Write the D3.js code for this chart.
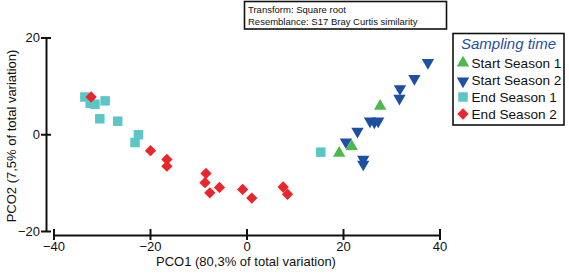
<!DOCTYPE html>
<html>
<head>
<meta charset="utf-8">
<script src="https://cdn.jsdelivr.net/npm/d3@7"></script>
<style>
  body { margin: 0; background: #fff; }
  svg { display: block; font-family: "Liberation Sans", Arial, sans-serif; }
</style>
</head>
<body>
<div id="chart"></div>
<script>
// groups in legend order
var groups = ["Start Season 1", "Start Season 2", "End Season 1", "End Season 2"];
var groupColors = ["#4cb84f", "#1f4fa3", "#5cc6c6", "#e8262c"];

// PCO1 / PCO2 scores
var startSeason1 = [[27.7, 6.0], [21.8, -2.3], [19.2, -3.7]];
var startSeason2 = [[37.6, 14.6], [34.8, 11.3], [31.8, 9.2], [31.7, 7.2], [25.6, 2.5], [26.5, 2.3],
                    [27.3, 2.5], [23.0, 0.4], [20.6, -1.8], [24.2, -5.4], [24.2, -6.4]];
var endSeason1 = [[-33.5, 7.7], [-32.4, 6.4], [-31.4, 6.2], [-29.3, 6.9], [-30.4, 3.2], [-26.7, 2.7],
                  [-22.4, -0.1], [-23.1, -1.7], [15.4, -3.7]];
var endSeason2 = [[-32.2, 7.7], [-19.9, -3.4], [-16.5, -5.2], [-16.5, -6.6], [-8.4, -8.1], [-8.6, -10.0],
                  [-7.6, -12.1], [-5.6, -11.0], [-0.8, -11.4], [1.1, -13.2], [7.6, -10.9], [8.5, -12.4]];

var xTicks = [-40, -20, 0, 20, 40];
var yTicks = [-20, 0, 20];

var width = 569, height = 275;
var svg = d3.select("#chart").append("svg").attr("width", width).attr("height", height);

var x = d3.scaleLinear().domain([-40, 40]).range([53.5, 439.5]);
var y = d3.scaleLinear().domain([-20, 20]).range([231, 37.5]);

// separate Prism-like axes
var yAxis = svg.append("g").attr("transform", "translate(46,0)")
    .call(d3.axisLeft(y).tickValues(yTicks).tickSize(5).tickSizeOuter(0).tickFormat(d3.format("d")));
var xAxis = svg.append("g").attr("transform", "translate(0,235)")
    .call(d3.axisBottom(x).tickValues(xTicks).tickSize(5).tickSizeOuter(0).tickFormat(d3.format("d")));

[yAxis, xAxis].forEach(function (ax) {
    ax.select(".domain").attr("stroke", "#111").attr("stroke-width", 2);
    ax.selectAll(".tick line").attr("stroke", "#111").attr("stroke-width", 2);
    ax.selectAll(".tick text").attr("fill", "#111").style("font-size", "13px").style("font-family", "Liberation Sans, Arial, sans-serif");
});
// ticks cross the axis line
yAxis.selectAll(".tick line").attr("x1", 5).attr("x2", -5);
yAxis.selectAll(".tick text").attr("x", -6);
xAxis.selectAll(".tick line").attr("y1", -6).attr("y2", 5);
xAxis.selectAll(".tick text").attr("y", 7);

svg.append("text").attr("x", 246).attr("y", 266).attr("text-anchor", "middle")
    .style("font-size", "13px").attr("fill", "#111")
    .text("PCO1 (80,3% of total variation)");
svg.append("text").attr("transform", "translate(16,136) rotate(-90)").attr("text-anchor", "middle")
    .style("font-size", "13px").attr("fill", "#111")
    .text("PCO2 (7,5% of total variation)");

function shapeFor(i) {
    if (i == 0) return { type: d3.symbolTriangle, size: 66, rot: 0 };
    if (i == 1) return { type: d3.symbolTriangle, size: 66, rot: 180 };
    if (i == 2) return { type: d3.symbolSquare, size: 90, rot: 0 };
    return { type: d3.symbolSquare, size: 64, rot: 45 };
}

// drawing order: cyan first, then red, then blues, greens on top
var series = [endSeason1, endSeason2, startSeason2, startSeason1];
var seriesIdx = [2, 3, 1, 0];
series.forEach(function (pts, k) {
    var i = seriesIdx[k];
    var s = shapeFor(i);
    svg.append("g").selectAll("path")
        .data(pts)
        .enter()
        .append("path")
        .attr("d", d3.symbol().type(s.type).size(s.size))
        .attr("transform", function (d) {
            var dy = s.type === d3.symbolTriangle ? (s.rot ? -1 : 1) : 0;
            return "translate(" + x(d[0]) + "," + (y(d[1]) + dy) + ") rotate(" + s.rot + ")";
        })
        .attr("fill", groupColors[i]);
});

// resemblance box
var info = svg.append("g");
info.append("rect").attr("x", 244.5).attr("y", 1.5).attr("width", 202).attr("height", 27.5)
    .attr("fill", "#fff").attr("stroke", "#111").attr("stroke-width", 1.6);
info.append("text").attr("x", 248).attr("y", 12.5).style("font-size", "9.5px").attr("fill", "#111")
    .text("Transform: Square root");
info.append("text").attr("x", 248).attr("y", 25).style("font-size", "9.5px").attr("fill", "#111")
    .text("Resemblance: S17 Bray Curtis similarity");

// legend
var legend = svg.append("g");
legend.append("rect").attr("x", 453).attr("y", 33.5).attr("width", 111).attr("height", 91.5)
    .attr("fill", "#fff").attr("stroke", "#111").attr("stroke-width", 1.6);
legend.append("text").attr("x", 508.5).attr("y", 48.5).attr("text-anchor", "middle")
    .style("font-size", "15px").style("font-style", "italic").attr("fill", "#1f4fa3")
    .text("Sampling time");
var rowY = [63, 80, 97, 114];
groups.forEach(function (g, i) {
    var s = shapeFor(i);
    legend.append("path")
        .attr("d", d3.symbol().type(s.type).size(s.size))
        .attr("transform", "translate(463," + (rowY[i] + (i == 1 ? 1 : 0)) + ") rotate(" + s.rot + ")")
        .attr("fill", groupColors[i]);
    legend.append("text").attr("x", 471.5).attr("y", rowY[i] + 5)
        .style("font-size", "13.6px").attr("fill", "#111").text(g);
});
</script>
</body>
</html>
